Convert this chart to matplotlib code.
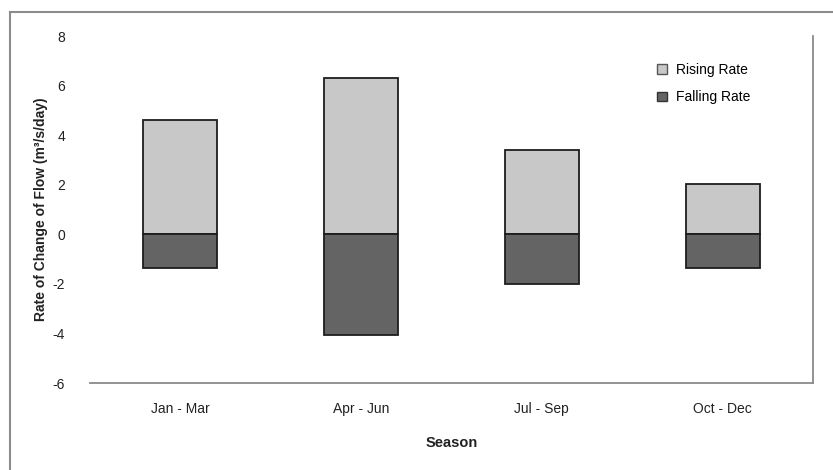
import matplotlib
matplotlib.use("Agg")
import matplotlib.pyplot as plt
from matplotlib.patches import Patch
from matplotlib.lines import Line2D

plt.rcParams['font.family'] = ['Liberation Sans', 'DejaVu Sans']

seasons = ["Jan - Mar", "Apr - Jun", "Jul - Sep", "Oct - Dec"]
rising_rate = [4.6, 6.3, 3.4, 2.05]
falling_rate = [-1.35, -4.05, -2.0, -1.35]
y_ticks = [8, 6, 4, 2, 0, -2, -4, -6]

fig = plt.figure(figsize=(8.33, 4.70), dpi=100)
ax = fig.add_axes([0.108, 0.185, 0.868, 0.738])

x = list(range(len(seasons)))
ax.bar(x, rising_rate, width=0.41, color="#c8c8c8", edgecolor="#1e1e1e", linewidth=1.3, label="Rising Rate", zorder=2)
ax.bar(x, falling_rate, width=0.41, color="#646464", edgecolor="#1e1e1e", linewidth=1.3, label="Falling Rate", zorder=2)

ax.set_xlim(-0.5, 3.5)
ax.set_ylim(-6, 8)
ax.set_yticks(y_ticks)
ax.set_yticklabels([str(v) for v in y_ticks])
ax.set_xticks(x)
ax.set_xticklabels(seasons)
ax.tick_params(axis='both', labelsize=10, length=0, colors="#222222")
ax.tick_params(axis='y', pad=18)
ax.tick_params(axis='x', pad=14)

for s in ['left', 'top']:
    ax.spines[s].set_visible(False)
for s in ['bottom', 'right']:
    ax.spines[s].set_color("#8a8a8a")
    ax.spines[s].set_linewidth(1.3)

ax.set_xlabel("Season", fontsize=10.5, fontweight='bold', labelpad=14, color="#222222")
ax.set_ylabel("Rate of Change of Flow (m³/s/day)", fontsize=10, fontweight='bold', color="#222222")
ax.yaxis.set_label_coords(-0.058, 0.5)

handles = [Patch(facecolor="#c8c8c8", edgecolor="#555555", label="Rising Rate"),
           Patch(facecolor="#646464", edgecolor="#333333", label="Falling Rate")]
leg = ax.legend(handles=handles, loc='upper right', bbox_to_anchor=(0.93, 0.96), frameon=False,
                fontsize=10, handlelength=0.7, handleheight=0.7, handletextpad=0.6, labelspacing=1.0)

# outer chart border
fig.add_artist(Line2D([0.012, 0.012], [0.0, 0.975], transform=fig.transFigure, color="#8c8c8c", lw=1.5))
fig.add_artist(Line2D([0.012, 1.0], [0.975, 0.975], transform=fig.transFigure, color="#8c8c8c", lw=1.5))

fig.savefig("out.png", dpi=100)
